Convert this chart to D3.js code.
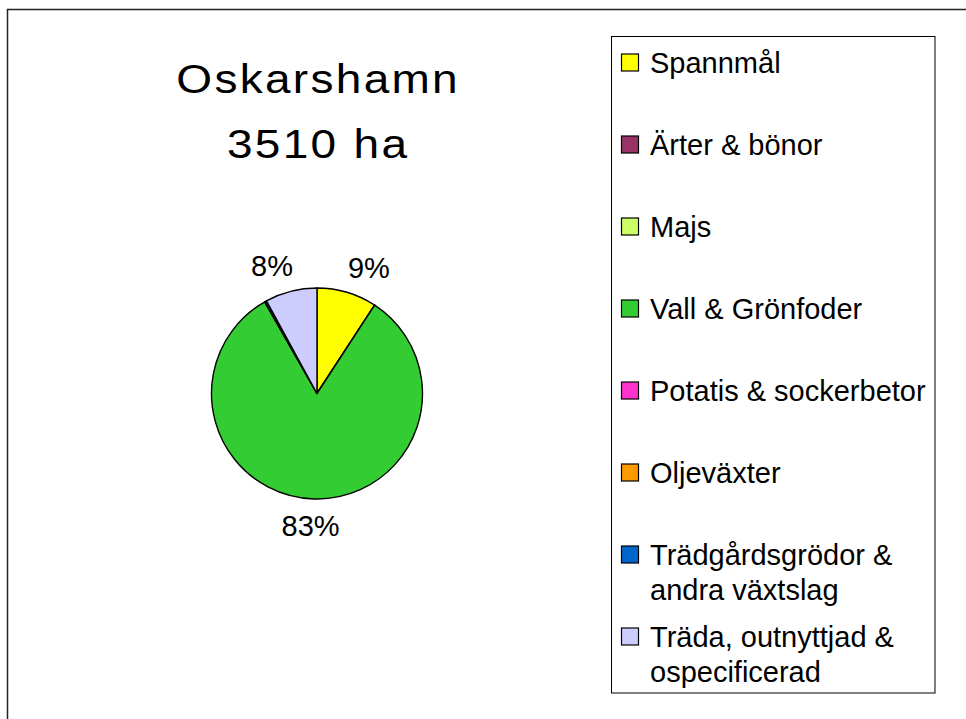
<!DOCTYPE html>
<html>
<head>
<meta charset="utf-8">
<script src="https://cdn.jsdelivr.net/npm/d3@7"></script>
<style>
html,body{margin:0;padding:0;background:#fff;}
svg{display:block;font-family:"Liberation Sans",Arial,sans-serif;}
</style>
</head>
<body>
<svg id="chart" width="966" height="719"></svg>
<script>
const titleLines = ["Oskarshamn", "3510 ha"];
const categories = ["Spannmål", "Ärter & bönor", "Majs", "Vall & Grönfoder", "Potatis & sockerbetor", "Oljeväxter", "Trädgårdsgrödor & andra växtslag", "Träda, outnyttjad & ospecificerad"];
const legendLines = [["Spannmål"], ["Ärter & bönor"], ["Majs"], ["Vall & Grönfoder"], ["Potatis & sockerbetor"], ["Oljeväxter"], ["Trädgårdsgrödor &", "andra växtslag"], ["Träda, outnyttjad &", "ospecificerad"]];
const hectares = [323, 0, 0, 2898, 0, 0, 10, 279];
const colors = ["#FFFF00", "#993366", "#CCFF66", "#33CC33", "#FF33CC", "#FF9900", "#0066CC", "#CCCCFF"];

const svg = d3.select("#chart");

// outer chart border
svg.append("rect").attr("x", 7.5).attr("y", 9.5).attr("width", 1000).attr("height", 800)
  .attr("fill", "none").attr("stroke", "#222").attr("stroke-width", 1.5);

// title (slightly stretched, spaced)
const tg = svg.append("g").attr("transform", "translate(317,0) scale(1.15,1)");
const title = tg.append("text").attr("text-anchor", "middle")
  .attr("font-size", 40).attr("letter-spacing", 2).attr("fill", "#000");
titleLines.forEach((t, i) => {
  title.append("tspan").attr("x", 1).attr("y", 93 + i * 65).text(t);
});

// pie
const cx = 317, cy = 393.5, R = 105.5;
const total = d3.sum(hectares);
const data = categories.map((c, i) => ({name: c, value: hectares[i], color: colors[i]}));
const pie = d3.pie().sort(null).value(d => d.value);
const arcs = pie(data);
const arc = d3.arc().innerRadius(0).outerRadius(R);
const g = svg.append("g").attr("transform", `translate(${cx},${cy})`);
g.selectAll("path").data(arcs).join("path")
  .attr("d", arc).attr("fill", d => d.data.color)
  .attr("stroke", "#000").attr("stroke-width", 1.4).attr("stroke-linejoin", "round");

// labels
const labelR = 121;
const fs = 29;
arcs.forEach(a => {
  const pct = Math.round(a.data.value / total * 100);
  if (pct < 1) return;
  const mid = (a.startAngle + a.endAngle) / 2;
  const px = Math.sin(mid) * labelR, py = -Math.cos(mid) * labelR;
  const txt = pct + "%";
  const w = txt.length * 0.6 * fs;
  const h = fs * 0.75;
  const kx = Math.max(-1, Math.min(1, Math.sin(mid) * 3.5));
  const lx = px + kx * w / 2;
  const ly = py - Math.cos(mid) * h / 2;
  g.append("text").attr("x", lx).attr("y", ly).attr("dy", "0.36em")
    .attr("text-anchor", "middle").attr("font-size", fs).attr("fill", "#000").text(txt);
});

// legend
const lg = svg.append("g");
lg.append("rect").attr("x", 611.5).attr("y", 36.5).attr("width", 323.5).attr("height", 656.5)
  .attr("fill", "#fff").attr("stroke", "#000").attr("stroke-width", 1);
const yScale = d3.scalePoint().domain(d3.range(categories.length)).range([62.5, 636.5]);
categories.forEach((c, i) => {
  const yc = yScale(i);
  lg.append("rect").attr("x", 621.5).attr("y", yc - 8.5).attr("width", 17).attr("height", 17)
    .attr("fill", colors[i]).attr("stroke", "#000").attr("stroke-width", 1.2);
  const t = lg.append("text").attr("font-size", fs).attr("fill", "#000");
  legendLines[i].forEach((line, j) => {
    t.append("tspan").attr("x", 650).attr("y", yc + 10.5 + j * 35).text(line);
  });
});
</script>
</body>
</html>
